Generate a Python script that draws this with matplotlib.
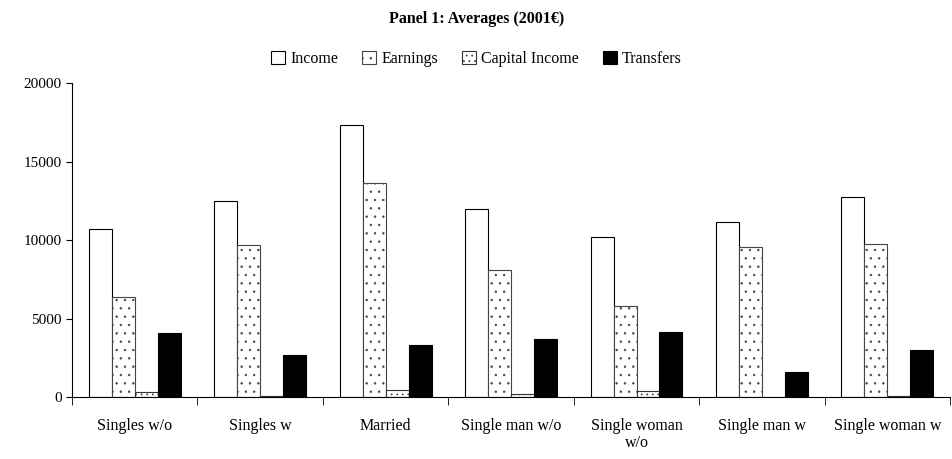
import matplotlib.pyplot as plt
import numpy as np

plt.rcParams['font.family'] = ['Liberation Serif', 'DejaVu Serif']
plt.rcParams['hatch.linewidth'] = 0.5

categories = ['Singles w/o', 'Singles w', 'Married', 'Single man w/o',
              'Single woman\nw/o', 'Single man w', 'Single woman w']
income = [10700, 12500, 17300, 12000, 10200, 11150, 12750]
earnings = [6400, 9700, 13650, 8100, 5800, 9550, 9750]
capital_income = [320, 60, 450, 200, 380, 20, 80]
transfers = [4050, 2700, 3300, 3700, 4150, 1600, 3000]

series = [
    ('Income', income, dict(facecolor='white', edgecolor='black')),
    ('Earnings', earnings, dict(facecolor='white', edgecolor='#444444', hatch='..')),
    ('Capital Income', capital_income, dict(facecolor='white', edgecolor='#333333', hatch='...')),
    ('Transfers', transfers, dict(facecolor='black', edgecolor='black')),
]

fig = plt.figure(figsize=(9.53, 4.59), dpi=100)
ax = fig.add_axes([0.0755, 0.135, 0.9215, 0.684])

x = np.arange(len(categories))
w = 0.183
for i, (name, vals, style) in enumerate(series):
    ax.bar(x + (i - 1.5) * w, vals, w, label=name, linewidth=0.8, **style)

ax.set_xlim(-0.5, len(categories) - 0.5)
ax.set_ylim(0, 20000)
ax.set_yticks([0, 5000, 10000, 15000, 20000])
ax.set_xticks(x)
ax.set_xticklabels(categories, fontsize=11.5, linespacing=1.1)
ax.set_xticks(np.arange(len(categories) + 1) - 0.5, minor=True)
ax.tick_params(axis='x', which='major', length=0, pad=15)
ax.tick_params(axis='x', which='minor', length=6, direction='out')
ax.tick_params(axis='y', labelsize=11, length=4, direction='out')

for s in ['top', 'right']:
    ax.spines[s].set_visible(False)

fig.suptitle('Panel 1: Averages (2001€)', fontsize=11.5, fontweight='bold', y=0.975)
fig.legend(loc='upper center', bbox_to_anchor=(0.5, 0.92), ncol=4, frameon=False,
           fontsize=11.5, handlelength=0.9, handleheight=0.9, handletextpad=0.3,
           columnspacing=1.5)

plt.savefig('out.png', dpi=100)
